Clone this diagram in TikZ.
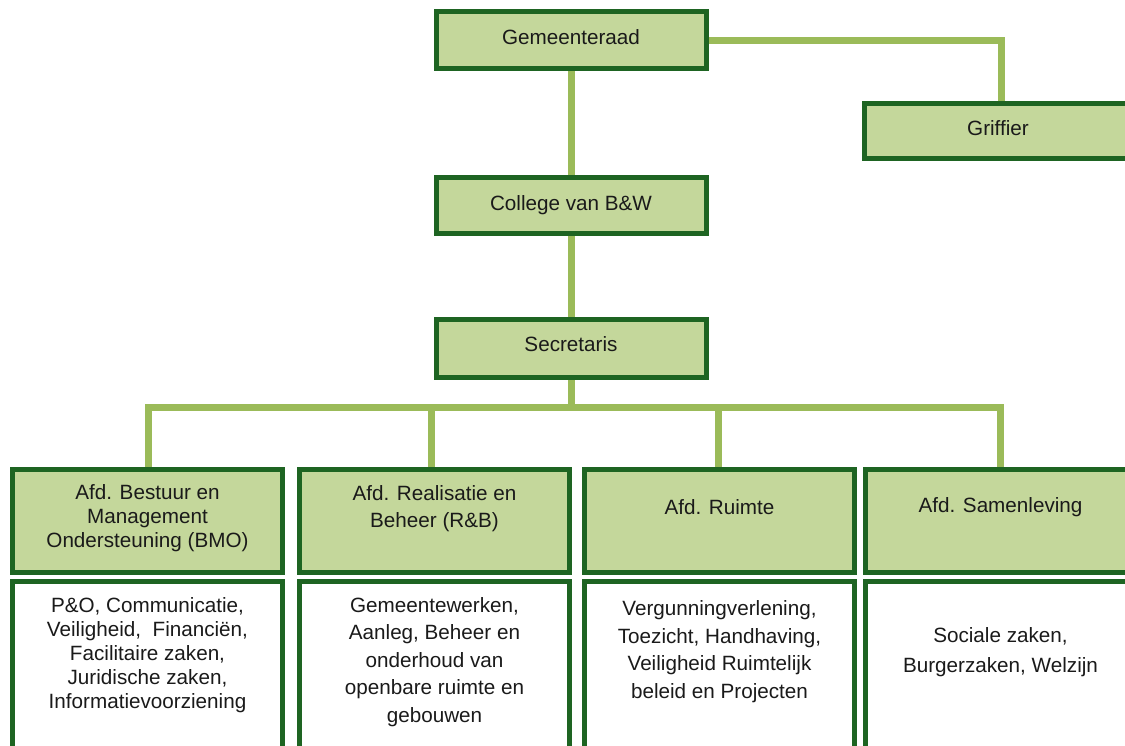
\documentclass[tikz,border=0pt]{standalone}
\usepackage{fontspec}
\setmainfont{Liberation Sans}
\usetikzlibrary{backgrounds}
\definecolor{boxfill}{HTML}{C4D79B}
\definecolor{boxline}{HTML}{1E6422}
\definecolor{connc}{HTML}{9BBB59}
\definecolor{txt}{HTML}{1A1A1A}
\begin{document}
\begin{tikzpicture}[x=0.75pt,y=-0.75pt,
  box/.style={draw=boxline, line width=3.75pt, fill=boxfill, inner sep=0pt,
    minimum width=202.5pt},
  descbox/.style={box, fill=white},
  lbl/.style={inner sep=0pt, text=txt, align=center,
    font=\fontsize{15.5}{18}\selectfont},
  connector/.style={draw=connc, line width=5.25pt}]
\useasboundingbox (0,0) rectangle (1125,746);

% top boxes
\node[box, minimum height=42.75pt] (gem) at (571,40) {};
\node[box, minimum height=42pt] (college) at (571,205.5) {};
\node[box, minimum height=43.5pt] (secretaris) at (571,348.5) {};
\node[box, minimum height=41.25pt, minimum width=200.6pt] (griffier) at (998,131) {};

\node[lbl] (gemT) at (571,37) {Gemeenteraad};
\node[lbl] (collegeT) at (571,205) {College van B\&W};
\node[lbl] (secretarisT) at (571,344) {Secretaris};
\node[lbl] (griffierT) at (998,128) {Griffier};

% department headers
\node[box, minimum height=77.25pt] (h1) at (147.5,521) {};
\node[box, minimum height=77.25pt] (h2) at (434.5,521) {};
\node[box, minimum height=77.25pt] (h3) at (719.5,521) {};
\node[box, minimum height=77.25pt] (h4) at (1000.5,521) {};

\node[lbl] (h1T) at (147.5,518) {Afd. Bestuur en\\Management\\Ondersteuning (BMO)};
\node[lbl, font=\fontsize{15.5}{20.25}\selectfont] (h2T) at (434.5,508.5) {Afd. Realisatie en\\Beheer (R\&B)};
\node[lbl] (h3T) at (719.5,507) {Afd. Ruimte};
\node[lbl] (h4T) at (1000.5,507) {Afd. Samenleving};

% description boxes
\node[descbox, minimum height=139.5pt] (b1) at (147.5,674.5) {};
\node[descbox, minimum height=139.5pt] (b2) at (434.5,674.5) {};
\node[descbox, minimum height=139.5pt] (b3) at (719.5,674.5) {};
\node[descbox, minimum height=139.5pt] (b4) at (1000.5,674.5) {};

\node[lbl] (b1T) at (147.5,655) {P\&O, Communicatie,\\Veiligheid, \ Financiën,\\Facilitaire zaken,\\Juridische zaken,\\Informatievoorziening};
\node[lbl, font=\fontsize{15.5}{20.6}\selectfont] (b2T) at (434.5,662) {Gemeentewerken,\\Aanleg, Beheer en\\onderhoud van\\openbare ruimte en\\gebouwen};
\node[lbl, font=\fontsize{15.5}{20.75}\selectfont] (b3T) at (719.5,651.5) {Vergunningverlening,\\Toezicht, Handhaving,\\Veiligheid Ruimtelijk\\beleid en Projecten};
\node[lbl, font=\fontsize{15.5}{22.5}\selectfont] (b4T) at (1000.5,652) {Sociale zaken,\\Burgerzaken, Welzijn};

% connectors (under the boxes)
\begin{pgfonlayer}{background}
\fill[white] (0,0) rectangle (1125,746);
\coordinate (bus) at (571,407);
\draw[connector] (gem.center) -- (college.center);
\draw[connector] (college.center) -- (secretaris.center) -- (bus);
\draw[connector] (gem.center) -| ([xshift=2.25pt]griffier.center);
\draw[connector] ([xshift=0.4pt]h1.center) |- (bus) -| (h4.center);
\draw[connector] ([xshift=-2.6pt]h2.center) -- ([xshift=-2.6pt]h2.center |- bus);
\draw[connector] ([xshift=-1.1pt]h3.center) -- ([xshift=-1.1pt]h3.center |- bus);
\end{pgfonlayer}
\end{tikzpicture}
\end{document}
